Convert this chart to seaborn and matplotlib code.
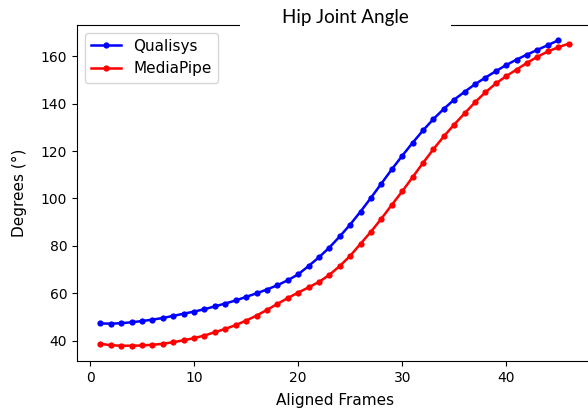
import numpy as np
import pandas as pd
import matplotlib
matplotlib.use("Agg")
import matplotlib.pyplot as plt
from matplotlib.patches import Rectangle
import seaborn as sns

# Hip joint angle per aligned frame for each capture system
qualisys_frames = list(range(1, 46))
qualisys_deg = [47.3, 47.2, 47.4, 47.8, 48.3, 48.9, 49.6, 50.5, 51.4, 52.3,
                53.3, 54.5, 55.7, 57.0, 58.5, 60.0, 61.6, 63.4, 65.5, 68.0,
                71.5, 75.2, 79.3, 84.0, 89.0, 94.5, 100.3, 106.3, 112.3, 118.0,
                123.5, 128.7, 133.5, 137.8, 141.7, 145.0, 148.2, 151.0, 153.7, 156.3,
                158.6, 160.7, 162.7, 164.7, 166.7]

mediapipe_frames = list(range(1, 47))
mediapipe_deg = [38.7, 38.1, 37.9, 37.9, 38.0, 38.3, 38.7, 39.4, 40.2, 41.1,
                 42.2, 43.6, 45.0, 46.6, 48.5, 50.6, 53.0, 55.5, 58.0, 60.3,
                 62.5, 64.8, 67.8, 71.5, 75.8, 80.9, 86.0, 91.5, 97.3, 103.0,
                 109.0, 115.0, 120.8, 126.2, 131.2, 135.9, 140.6, 144.8, 148.5, 151.6,
                 154.4, 157.2, 159.8, 162.0, 163.8, 165.3]

series_names = ["Qualisys", "MediaPipe"]
series_colors = ["blue", "red"]

df = pd.concat([
    pd.DataFrame({"frame": qualisys_frames, "deg": qualisys_deg, "system": series_names[0]}),
    pd.DataFrame({"frame": mediapipe_frames, "deg": mediapipe_deg, "system": series_names[1]}),
], ignore_index=True)

fig = plt.figure(figsize=(5.88, 4.11), dpi=100)
ax = fig.add_axes([0.131, 0.1217, 0.876, 0.8173])

sns.lineplot(data=df, x="frame", y="deg", hue="system", hue_order=series_names,
             palette=dict(zip(series_names, series_colors)), marker="o",
             markersize=4.5, markeredgewidth=0, linewidth=1.8, ax=ax)

handles, labels = ax.get_legend_handles_labels()
ax.legend(handles, labels, loc="upper left", fontsize=11)

ax.set_xticks([0, 10, 20, 30, 40])
ax.set_yticks([40, 60, 80, 100, 120, 140, 160])
ax.tick_params(labelsize=10)
ax.set_xlabel("Aligned Frames", fontsize=11, labelpad=6)
ax.set_ylabel("Degrees (°)", fontsize=11, labelpad=10)

# title sits on a white band laid over the top edge of the plot frame
fig.patches.append(Rectangle((240 / 588, 1 - 34 / 411), 211 / 588, 34 / 411,
                             transform=fig.transFigure, facecolor="white",
                             edgecolor="none", zorder=5))
fig.text(345 / 588, 1 - 17 / 411, "Hip Joint Angle", family="Lato", fontsize=13.5,
         ha="center", va="center", zorder=6)

fig.savefig("out.png", dpi=100)
